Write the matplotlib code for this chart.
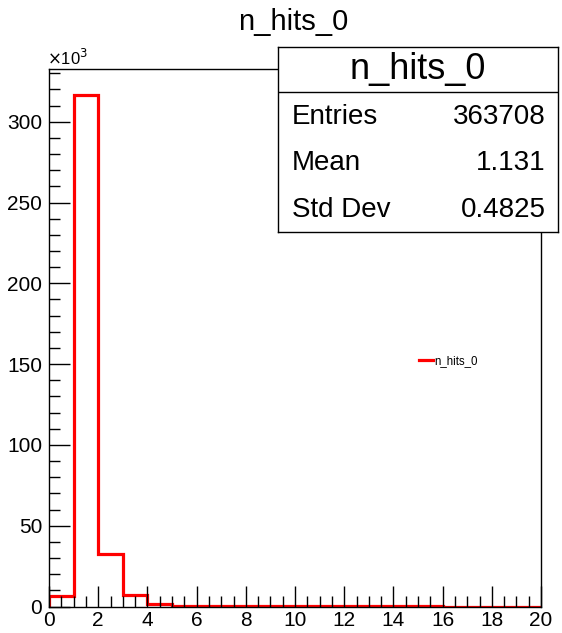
import matplotlib
matplotlib.use("Agg")
import matplotlib.pyplot as plt
import numpy as np
from matplotlib.ticker import MultipleLocator, FuncFormatter

plt.rcParams["font.family"] = ["Liberation Sans", "DejaVu Sans"]

# histogram n_hits_0: 20 bins of width 1 over [0, 20]
bin_edges = list(range(0, 21))
counts = [6200, 316800, 32500, 7000, 1500, 300, 120, 60, 30, 15,
          8, 5, 3, 2, 1, 1, 0, 0, 0, 0]
hist_name = "n_hits_0"
n_entries = 363708
mean_val = 1.131
std_val = 0.4825

fig = plt.figure(figsize=(5.62, 6.33), dpi=100)
W, H = 562, 633
ax = fig.add_axes([49 / W, (H - 606.5) / H, (541 - 49) / W, (606.5 - 69) / H])

ax.stairs(counts, bin_edges, color="red", linewidth=2.3, label=hist_name)
ax.set_xlim(0, 20)
ax.set_ylim(0, max(counts) * 1.05)

ax.xaxis.set_major_locator(MultipleLocator(2))
ax.xaxis.set_minor_locator(MultipleLocator(0.5))
ax.yaxis.set_major_locator(MultipleLocator(50000))
ax.yaxis.set_minor_locator(MultipleLocator(10000))
ax.yaxis.set_major_formatter(FuncFormatter(lambda v, p: f"{v / 1000:g}"))
ax.tick_params(which="both", direction="in", top=False, right=False,
               labelsize=15, width=1, color="black")
ax.tick_params(which="major", length=15)
ax.tick_params(which="minor", length=8)
ax.tick_params(axis="x", which="major", pad=3)
ax.tick_params(axis="y", which="major", pad=5)
for sp in ax.spines.values():
    sp.set_linewidth(1)

fig.text(47 / W, (H - 58) / H, r"$\times$10$^{3}$", fontsize=12, ha="left", va="center")
fig.text(293 / W, (H - 22) / H, hist_name, fontsize=21, ha="center", va="center")

ax.legend(loc="center left", bbox_to_anchor=(0.74, 0.457), frameon=False,
          fontsize=8.3, handlelength=1.2, handletextpad=0.15, borderpad=0)

# statistics box
box = fig.add_axes([278 / W, (H - 232) / H, (558 - 278) / W, (232 - 47) / H])
box.set_xticks([])
box.set_yticks([])
box.set_xlim(0, 1)
box.set_ylim(0, 1)
for sp in box.spines.values():
    sp.set_linewidth(1)
sep = (232 - 92) / (232 - 47)
box.axhline(sep, color="black", linewidth=1)
box.text(0.5, (232 - 69) / 185, hist_name, fontsize=26, ha="center", va="center")
rows = [("Entries", f"{n_entries}"), ("Mean", f"{mean_val:.3f}"),
        ("Std Dev", f"{std_val:.4f}")]
for (lab, val), yp in zip(rows, [117, 163, 210]):
    yy = (232 - yp) / 185
    box.text(0.05, yy, lab, fontsize=20, ha="left", va="center")
    box.text(0.955, yy, val, fontsize=20, ha="right", va="center")

fig.savefig("out.png", dpi=100)
